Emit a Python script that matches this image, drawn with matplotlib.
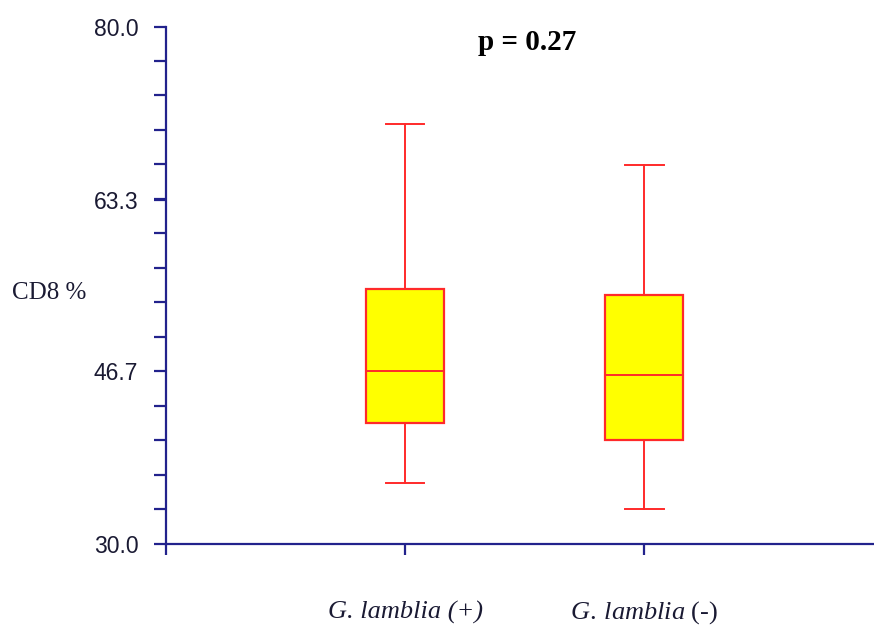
import matplotlib
matplotlib.use("Agg")
import matplotlib.pyplot as plt
from matplotlib.ticker import AutoMinorLocator

# data
groups = ["G. lamblia (+)", "G. lamblia (-)"]
whisker_low = [35.9, 33.4]
q1 = [41.7, 40.1]
median = [46.7, 46.3]
q3 = [54.7, 54.1]
whisker_high = [70.6, 66.7]
yticks = [30.0, 46.7, 63.3, 80.0]
p_text = "p = 0.27"

axis_color = "#22228c"
box_red = "#ff2a2a"

plt.rcParams["mathtext.fontset"] = "custom"
plt.rcParams["mathtext.rm"] = "Liberation Serif"
plt.rcParams["mathtext.it"] = "Liberation Serif:italic"

fig = plt.figure(figsize=(8.74, 6.29), dpi=100)
ax = fig.add_axes([166 / 874, 1 - 544 / 629, 1 - 166 / 874, (544 - 27) / 629])

stats = []
for i in range(len(groups)):
    stats.append({
        "label": groups[i],
        "whislo": whisker_low[i],
        "q1": q1[i],
        "med": median[i],
        "q3": q3[i],
        "whishi": whisker_high[i],
        "fliers": [],
    })

line = dict(color=box_red, linewidth=1.4)
ax.bxp(stats, positions=[1, 2], widths=0.326, patch_artist=True,
       showfliers=False, capwidths=0.16,
       boxprops=dict(facecolor="#ffff00", edgecolor=box_red, linewidth=1.6),
       medianprops=line, whiskerprops=line, capprops=line)

ax.set_xlim(0, 2.96)
ax.set_ylim(30, 80)

for side in ["top", "right"]:
    ax.spines[side].set_visible(False)
for side in ["left", "bottom"]:
    ax.spines[side].set_color(axis_color)
    ax.spines[side].set_linewidth(1.6)

ax.set_yticks(yticks)
ax.set_yticklabels(["%.1f" % v for v in yticks], family="Liberation Sans",
                   fontsize=16.5, color="#1a1a33")
ax.yaxis.set_minor_locator(AutoMinorLocator(5))
ax.tick_params(axis="y", which="both", direction="out", length=9, width=1.6,
               color=axis_color, pad=11)

# first label fully italic, second with upright "(-)"
xlabels = ["", groups[0], r"$\mathit{G.\:lamblia}$ (-)"]
ax.set_xticks([0, 1, 2])
ax.set_xticklabels(xlabels, fontsize=19, family="Liberation Serif",
                   color="#1a1a33")
ax.get_xticklabels()[1].set_fontstyle("italic")
for lab in ax.get_xticklabels():
    lab.set_verticalalignment("baseline")
ax.tick_params(axis="x", direction="out", length=8, width=1.6,
               color=axis_color, pad=46)

fig.text(12 / 874, 1 - 293 / 629, "CD8 %", family="Liberation Serif",
         fontsize=18, va="center", ha="left", color="#1a1a33")
fig.text(527 / 874, 1 - 43 / 629, p_text, fontsize=21, fontweight="bold",
         family="Liberation Serif", ha="center", va="center")

fig.savefig("out.png", dpi=100)
